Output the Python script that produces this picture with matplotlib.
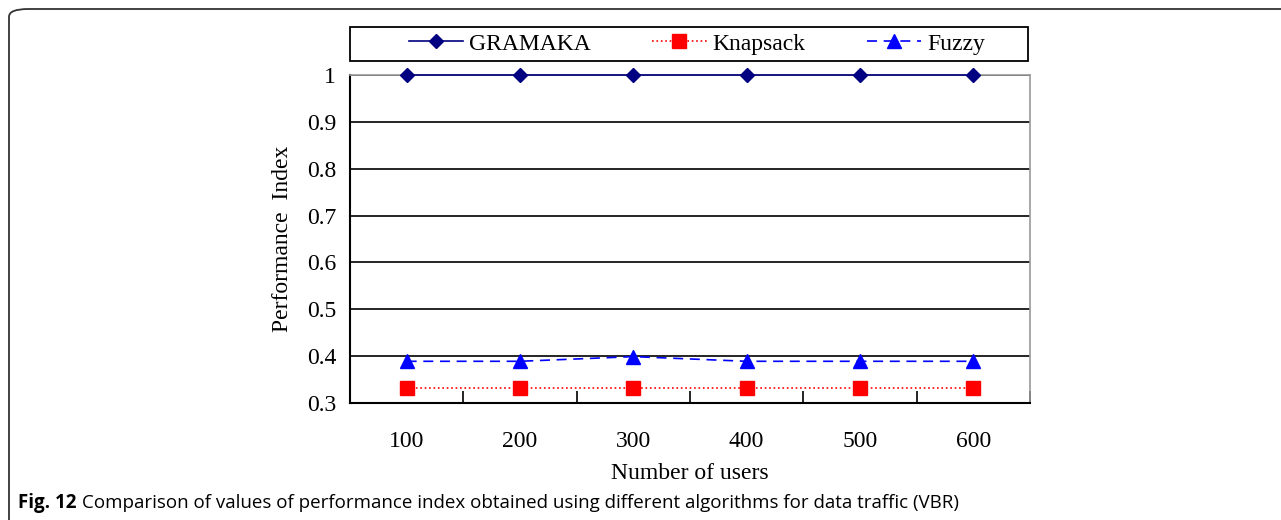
import matplotlib.pyplot as plt
import numpy as np
from matplotlib.patches import FancyBboxPatch, Rectangle

users = ['100', '200', '300', '400', '500', '600']
gramaka = [1.0, 1.0, 1.0, 1.0, 1.0, 1.0]
knapsack = [0.333, 0.333, 0.333, 0.333, 0.333, 0.333]
fuzzy = [0.389, 0.389, 0.399, 0.389, 0.389, 0.389]

plt.rcParams['font.family'] = 'Liberation Serif'

fig = plt.figure(figsize=(12.81, 5.2), dpi=100)
ax = fig.add_axes([0.2732, 0.225, 0.5308, 0.6308])

x = np.arange(len(users))
ax.plot(x, gramaka, '-', color='#000080', marker='D', markersize=7,
        linewidth=1.2, label='GRAMAKA', clip_on=False, zorder=5)
ax.plot(x, knapsack, ':', color='#ff0000', marker='s', markersize=10,
        linewidth=1.2, label='Knapsack', clip_on=False, zorder=5)
ax.plot(x, fuzzy, '--', color='#0000ff', marker='^', markersize=10,
        linewidth=1.2, dashes=(6, 4), label='Fuzzy', clip_on=False, zorder=5)

ax.set_xlim(-0.5, 5.5)
ax.set_ylim(0.3, 1.0)
ax.set_yticks(np.arange(0.3, 1.01, 0.1))
ax.set_yticklabels(['0.3', '0.4', '0.5', '0.6', '0.7', '0.8', '0.9', '1'])
ax.grid(axis='y', color='black', linewidth=1.2)
ax.set_axisbelow(True)

ax.set_xticks(x)
ax.set_xticklabels(users)
ax.set_xticks(np.arange(0.5, 5.6, 1.0), minor=True)
ax.tick_params(axis='x', which='major', length=0, pad=20, labelsize=17)
ax.tick_params(axis='x', which='minor', length=9, direction='in', width=1.2)
ax.tick_params(axis='y', length=0, pad=10, labelsize=17)

for s in ['left', 'bottom']:
    ax.spines[s].set_color('black')
    ax.spines[s].set_linewidth(1.5)
for s in ['top', 'right']:
    ax.spines[s].set_color('#999999')
    ax.spines[s].set_linewidth(1.2)

ax.set_xlabel('Number of users', fontsize=17, labelpad=8)
ax.set_ylabel('Performance  Index', fontsize=17, labelpad=10)

leg = fig.legend(loc='center', bbox_to_anchor=(697 / 1281, 1 - 44 / 520),
                 ncol=3, fontsize=17, frameon=False,
                 handlelength=2.3, handletextpad=0.25, columnspacing=2.6)
fig.patches.append(Rectangle((350 / 1281, 1 - 61 / 520), 678 / 1281, 34 / 520,
                             transform=fig.transFigure, fill=False,
                             edgecolor='black', linewidth=1.3))

# outer frame of the figure panel
frame = FancyBboxPatch((9 / 1281, -0.2), 1.2, 1.2 - 9 / 520,
                       boxstyle='round,pad=0,rounding_size=0.015',
                       transform=fig.transFigure, fill=False,
                       edgecolor='#333333', linewidth=1.3, clip_on=False)
fig.patches.append(frame)

t1 = fig.text(18 / 1281, 1 - 503 / 520, 'Fig. 12', fontsize=13.5, weight='bold',
              family='Open Sans', va='center', ha='left')
fig.canvas.draw()
bb = t1.get_window_extent()
fig.text(bb.x1 / 1281 + 5 / 1281, 1 - 503 / 520,
         'Comparison of values of performance index obtained using different algorithms for data traffic (VBR)',
         fontsize=13.5, family='Open Sans', va='center', ha='left')

fig.savefig('out.png', dpi=100)
